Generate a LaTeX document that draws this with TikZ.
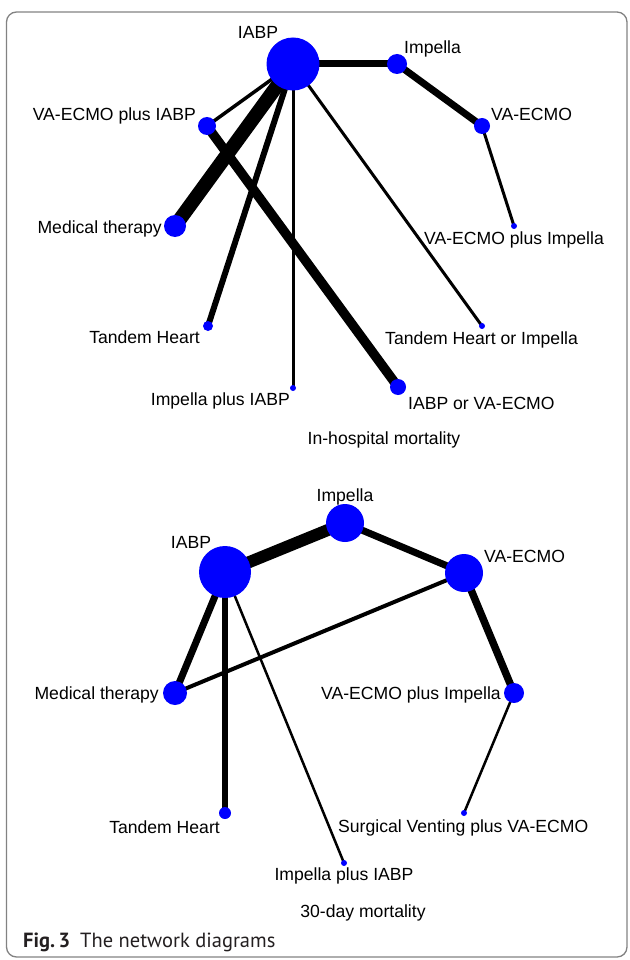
\documentclass[tikz,border=0pt]{standalone}
\usepackage{fontspec}
\setmainfont{Liberation Sans}
\newfontfamily\capfont{PT Sans}
\definecolor{nb}{RGB}{0,0,255}
\definecolor{framegray}{RGB}{130,130,130}
\pgfdeclarelayer{edges}
\pgfsetlayers{edges,main}
\tikzset{
  nd/.style={circle, fill=nb, draw=none, inner sep=0pt, minimum size=#1},
  lbl/.style={font=\fontsize{17.6}{20}\selectfont, inner sep=0pt, text=black},
  ttl/.style={font=\fontsize{17.6}{20}\selectfont, inner sep=0pt, text=black},
  conn/.style={line width=#1, black},
}
\begin{document}
\begin{tikzpicture}[x=1pt,y=-1pt]
\useasboundingbox (0,0) rectangle (629,960);
\draw[framegray, line width=1.3pt, rounded corners=10pt] (6.5,12) rectangle (627,957);

% ---------- In-hospital mortality ----------
\node[nd=53] (a1) at (293,64) {};
\node[nd=20] (a2) at (397,64) {};
\node[nd=16] (a3) at (482,126) {};
\node[nd=6]  (a4) at (514,226) {};
\node[nd=18] (a5) at (207,126) {};
\node[nd=22] (a6) at (175,226) {};
\node[nd=10] (a7) at (208,326) {};
\node[nd=6]  (a8) at (293,388) {};
\node[nd=16] (a9) at (398,387) {};
\node[nd=6]  (a10) at (482,326) {};

\node[lbl, anchor=base] (la1) at (258,39) {IABP};
\node[lbl, anchor=base west] (la2) at (404,54) {Impella};
\node[lbl, anchor=base west] (la3) at (491,121) {VA-ECMO};
\node[lbl, anchor=base west] (la4) at (424,244) {VA-ECMO plus Impella};
\node[lbl, anchor=base east] (la5) at (196,121) {VA-ECMO plus IABP};
\node[lbl, anchor=base east] (la6) at (162,233) {Medical therapy};
\node[lbl, anchor=base east] (la7) at (200,343) {Tandem Heart};
\node[lbl, anchor=base east] (la8) at (290,405) {Impella plus IABP};
\node[lbl, anchor=base west] (la9) at (408,409) {IABP or VA-ECMO};
\node[lbl, anchor=base west] (la10) at (385,344) {Tandem Heart or Impella};
\node[ttl, anchor=base] (ta) at (384,444) {In-hospital mortality};

\begin{pgfonlayer}{edges}
\draw[conn=7pt] (a1.center) -- (a2.center);
\draw[conn=7pt] (a2.center) -- (a3.center);
\draw[conn=3pt] (a3.center) -- (a4.center);
\draw[conn=3.5pt] (a1.center) -- (a5.center);
\draw[conn=14pt] (a1.center) -- (a6.center);
\draw[conn=9.5pt] (a5.center) -- (a9.center);
\draw[conn=6pt] (a1.center) -- (a7.center);
\draw[conn=3pt] (a1.center) -- (a8.center);
\draw[conn=3pt] (a1.center) -- (a10.center);
\end{pgfonlayer}

% ---------- 30-day mortality ----------
\node[nd=52] (b1) at (225,572) {};
\node[nd=38] (b2) at (345,523) {};
\node[nd=38] (b3) at (464,573) {};
\node[nd=24] (b4) at (175,693) {};
\node[nd=20] (b5) at (514,693) {};
\node[nd=12] (b6) at (225,813) {};
\node[nd=6]  (b7) at (464,813) {};
\node[nd=6]  (b8) at (344,863) {};

\node[lbl, anchor=base] (lb1) at (191,548) {IABP};
\node[lbl, anchor=base] (lb2) at (345,501) {Impella};
\node[lbl, anchor=base west] (lb3) at (484,562) {VA-ECMO};
\node[lbl, anchor=base east] (lb4) at (159,699) {Medical therapy};
\node[lbl, anchor=base east] (lb5) at (501,699) {VA-ECMO plus Impella};
\node[lbl, anchor=base east] (lb6) at (220,833) {Tandem Heart};
\node[lbl, anchor=base west] (lb7) at (338,832) {Surgical Venting plus VA-ECMO};
\node[lbl, anchor=base] (lb8) at (344,880) {Impella plus IABP};
\node[ttl, anchor=base] (tb) at (363,917) {30-day mortality};

\begin{pgfonlayer}{edges}
\draw[conn=12pt] (b1.center) -- (b2.center);
\draw[conn=7pt] (b2.center) -- (b3.center);
\draw[conn=7pt] (b1.center) -- (b4.center);
\draw[conn=4pt] (b3.center) -- (b4.center);
\draw[conn=6pt] (b1.center) -- (b6.center);
\draw[conn=2.5pt] (b1.center) -- (b8.center);
\draw[conn=7.5pt] (b3.center) -- (b5.center);
\draw[conn=2.5pt] (b5.center) -- (b7.center);
\end{pgfonlayer}

% ---------- caption ----------
\node[anchor=base west, inner sep=0pt, font=\capfont\fontsize{20.5}{24}\selectfont, text={rgb,255:red,35;green,31;blue,32}] (cap) at (23,947) {\textbf{Fig.\,3}\hspace{10pt}The network diagrams};
\end{tikzpicture}
\end{document}
